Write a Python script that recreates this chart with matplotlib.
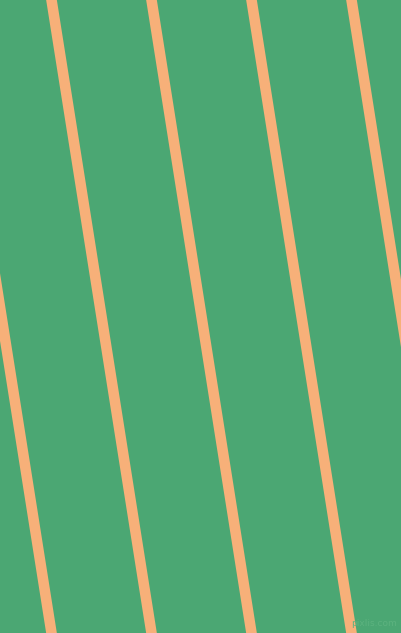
import matplotlib
matplotlib.use('Agg')
from matplotlib import pyplot as plt

# Colores
fondo = '#4ba773'
raya = '#f7b079'

# Centro de cada raya (pixeles) arriba (y=0) y abajo (y=633)
x_arriba = [-48.5, 51.5, 151.5, 251.5, 351.5, 451.5]
x_abajo = [51.5, 151.5, 251.5, 351.5, 451.5, 551.5]
ancho_raya = 10.7  # medido en horizontal
alto = 633
ancho = 401

fig = plt.figure(figsize=(4.01, 6.33), dpi=100)
ax = fig.add_axes([0, 0, 1, 1])
ax.set_facecolor(fondo)
m = ancho_raya / 2
for xa, xb in zip(x_arriba, x_abajo):
    # relleno en vez de linea, para que no se corte en el borde
    ax.fill([xa - m, xa + m, xb + m, xb - m], [0, 0, alto, alto],
            color=raya, linewidth=0)
ax.set_xlim(0, ancho)
ax.set_ylim(alto, 0)
ax.axis('off')
fig.patch.set_facecolor(fondo)
ax.text(397, 628, 'pixlis.com', color='#5cb27f', fontsize=6.5, ha='right', va='bottom')
fig.savefig('out.png', dpi=100, facecolor=fondo)
